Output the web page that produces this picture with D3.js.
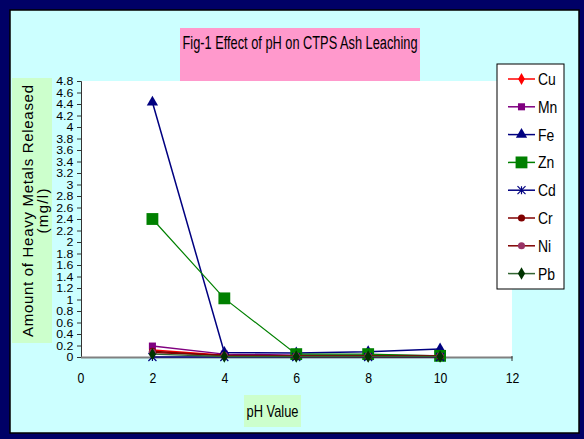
<!DOCTYPE html>
<html>
<head>
<meta charset="UTF-8">
<script src="https://cdn.jsdelivr.net/npm/d3@7"></script>
<style>
  body { margin: 0; padding: 0; background: #fff; }
  svg text { font-family: Arial, "Liberation Sans", sans-serif; fill: #000; }
</style>
</head>
<body>
<div id="chart"></div>
<script>
// data
const phValues = [2, 4, 6, 8, 10];
const Cu = [0.12, 0.03, 0.02, 0.01, 0.01];
const Mn = [0.19, 0.05, 0.03, 0.03, 0.02];
const Fe = [4.43, 0.08, 0.07, 0.09, 0.14];
const Zn = [2.40, 1.02, 0.05, 0.05, 0.02];
const Cd = [0.0, 0.0, 0.0, 0.0, 0.0];
const Cr = [0.10, 0.02, 0.01, 0.01, 0.01];
const Ni = [0.08, 0.03, 0.02, 0.02, 0.02];
const Pb = [0.05, 0.01, 0.01, 0.01, 0.01];
const xTicks = [0, 2, 4, 6, 8, 10, 12];
const yTicks = d3.range(0, 25).map(i => +(i * 0.2).toFixed(1));

const series = [
    {name: "Cu", values: Cu, color: "#ff0000", marker: "diamond", size: 40},
    {name: "Mn", values: Mn, color: "#800080", marker: "square", size: 50},
    {name: "Fe", values: Fe, color: "#000080", marker: "triangle", size: 55},
    {name: "Zn", values: Zn, color: "#008000", marker: "square", size: 140},
    {name: "Cd", values: Cd, color: "#000080", marker: "asterisk", size: 40},
    {name: "Cr", values: Cr, color: "#800000", marker: "circle", size: 40},
    {name: "Ni", values: Ni, color: "#993366", marker: "circle", size: 40, line: "#800000"},
    {name: "Pb", values: Pb, color: "#003300", marker: "diamond", size: 45, line: "#336633"}
];

const W = 584, H = 439;
const narrow = "scale(0.82,1)";
const svg = d3.select("#chart").append("svg")
    .attr("width", W)
    .attr("height", H);

// frame
svg.append("rect").attr("x", 0).attr("y", 0).attr("width", W).attr("height", H).attr("fill", "#000066");
svg.append("rect").attr("x", 10).attr("y", 10).attr("width", 569).attr("height", 423)
    .attr("fill", "#ccffff").attr("stroke", "#000").attr("stroke-width", 1.5);

const x = d3.scaleLinear().domain([0, 12]).range([80.5, 512]);
const y = d3.scaleLinear().domain([0, 4.8]).range([357, 81]);

// plot area
svg.append("rect").attr("x", 82).attr("y", 81).attr("width", 430).attr("height", 276).attr("fill", "#fff");

// title box
svg.append("rect").attr("x", 180).attr("y", 28).attr("width", 240).attr("height", 53).attr("fill", "#ff99cc");
svg.append("text")
    .attr("x", 300).attr("y", 49)
    .attr("text-anchor", "middle")
    .attr("font-size", 18)
    .attr("textLength", 235)
    .attr("lengthAdjust", "spacingAndGlyphs")
    .text("Fig-1 Effect of pH on CTPS Ash Leaching");

// y label box
svg.append("rect").attr("x", 12).attr("y", 78).attr("width", 40).attr("height", 265).attr("fill", "#ccffcc");
const yl = svg.append("g").attr("transform", "translate(0,211) rotate(-90)");
yl.append("text")
    .attr("x", 0).attr("y", 33)
    .attr("text-anchor", "middle")
    .attr("font-size", 15)
    .attr("textLength", 252)
    .attr("lengthAdjust", "spacing")
    .text("Amount of Heavy Metals Released");
yl.append("text")
    .attr("x", 0).attr("y", 48)
    .attr("text-anchor", "middle")
    .attr("font-size", 15)
    .attr("textLength", 45)
    .attr("lengthAdjust", "spacing")
    .text("(mg/l)");

// x label box
svg.append("rect").attr("x", 244).attr("y", 395).attr("width", 57).attr("height", 32).attr("fill", "#ccffcc");
svg.append("text")
    .attr("x", 272.5).attr("y", 417)
    .attr("text-anchor", "middle")
    .attr("font-size", 17)
    .attr("textLength", 52)
    .attr("lengthAdjust", "spacingAndGlyphs")
    .text("pH Value");

// axes
const yAxis = svg.append("g")
    .attr("transform", "translate(81,0)")
    .call(d3.axisLeft(y).tickValues(yTicks).tickSize(4).tickFormat(d => String(d)));
yAxis.select(".domain").attr("stroke", "#333");
yAxis.selectAll(".tick line").attr("stroke", "#333");
yAxis.selectAll(".tick text")
    .attr("font-size", 13)
    .attr("x", -8)
    .attr("dy", "0.34em")
    .attr("transform", "scale(0.95,0.85)");

const xAxis = svg.append("g")
    .attr("transform", "translate(0,357)")
    .call(d3.axisBottom(x).tickValues(xTicks).tickSize(0).tickPadding(15));
xAxis.select(".domain").attr("stroke", "#808080").attr("stroke-width", 2);
xAxis.selectAll(".tick text").attr("font-size", 15).attr("transform", narrow);
svg.append("line").attr("x1", x(12)).attr("x2", x(12)).attr("y1", 356).attr("y2", 361).attr("stroke", "#333");

// markers
const symbolTypes = {
    diamond: d3.symbolDiamond,
    square: d3.symbolSquare,
    triangle: d3.symbolTriangle,
    circle: d3.symbolCircle
};
function drawMarker(g, s, cx, cy) {
    if (s.marker === "asterisk") {
        const r = 4;
        g.append("path")
            .attr("d", `M${cx - r},${cy - r}L${cx + r},${cy + r}M${cx - r},${cy + r}L${cx + r},${cy - r}M${cx},${cy - r}L${cx},${cy + r}`)
            .attr("stroke", s.color).attr("stroke-width", 1.2).attr("fill", "none");
    } else {
        g.append("path")
            .attr("d", d3.symbol().type(symbolTypes[s.marker]).size(s.size)())
            .attr("transform", `translate(${cx},${cy})`)
            .attr("fill", s.color);
    }
}

const line = d3.line().x((d, i) => x(phValues[i])).y(d => y(d));
series.forEach(s => {
    const g = svg.append("g");
    g.append("path")
        .datum(s.values)
        .attr("d", line)
        .attr("fill", "none")
        .attr("stroke", s.line || s.color)
        .attr("stroke-width", s.name === "Zn" ? 1.2 : 1.5);
    s.values.forEach((v, i) => drawMarker(g, s, x(phValues[i]), y(v)));
});

// legend
svg.append("rect").attr("x", 497).attr("y", 64).attr("width", 67).attr("height", 225)
    .attr("fill", "#fff").attr("stroke", "#000").attr("stroke-width", 1);
series.forEach((s, i) => {
    const ly = 79 + i * 27.8;
    const g = svg.append("g");
    g.append("line").attr("x1", 508).attr("x2", 535).attr("y1", ly).attr("y2", ly)
        .attr("stroke", s.line || s.color).attr("stroke-width", 1.5);
    drawMarker(g, s, 521.5, ly);
    g.append("text")
        .attr("transform", `translate(538,${ly + 6}) ${narrow}`)
        .attr("font-size", 17)
        .text(s.name);
});
</script>
</body>
</html>
